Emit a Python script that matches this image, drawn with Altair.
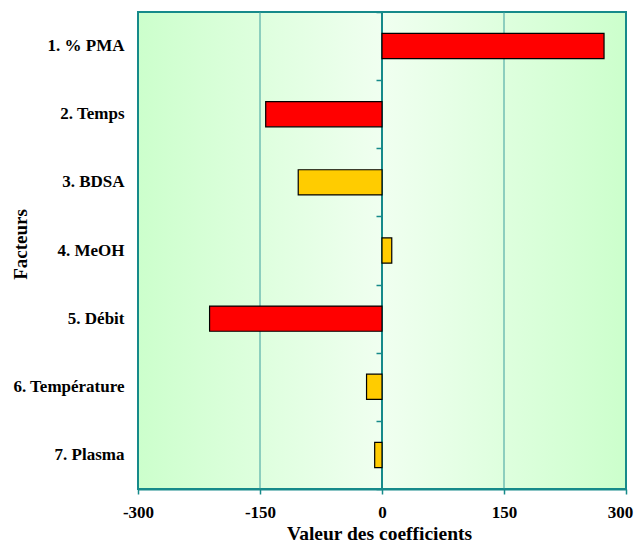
import altair as alt
import pandas as pd

factors = ["1. % PMA", "2. Temps", "3. BDSA", "4. MeOH", "5. Débit", "6. Température", "7. Plasma"]
coefs = [273, -143, -103, 12, -212, -19, -9]
colors = ["#FF0000", "#FF0000", "#FFCC00", "#FFCC00", "#FF0000", "#FFCC00", "#FFCC00"]
x_ticks = [-300, -150, 0, 150, 300]
grid_vals = [-150, 150]

df = pd.DataFrame({"facteur": factors, "coef": coefs, "couleur": colors})
bg = pd.DataFrame({"x": [x_ticks[0]], "x2": [x_ticks[-1]]})
grid = pd.DataFrame({"g": grid_vals})
zero = pd.DataFrame({"z": [0]})

W, H = 488, 477
FONT = "Liberation Serif"
TEAL = "#168A8A"
GRIDC = "#3A9E9E"

xscale = alt.Scale(domain=[x_ticks[0], x_ticks[-1]], nice=False, zero=False)
yscale = alt.Scale(domain=factors, paddingInner=0.63, paddingOuter=0.315)
ystep = alt.Scale(domain=factors, paddingInner=0, paddingOuter=0)

xaxis = alt.Axis(
    values=x_ticks,
    title="Valeur des coefficients",
    grid=False,
    domainColor=TEAL,
    domainWidth=2,
    tickColor=TEAL,
    tickSize=5,
    tickWidth=1.5,
    labelExpr="'' + datum.value",
    labelFont=FONT,
    labelFontWeight="bold",
    labelFontSize=17,
    labelColor="black",
    labelPadding=10,
    labelFlush=False,
    labelOffset={"condition": {"test": "datum.value == 300", "value": -6}, "value": 0},
    titleFont=FONT,
    titleFontWeight="bold",
    titleFontSize=19.5,
    titleColor="black",
    titleX=241,
    titleY=50,
    titleBaseline="alphabetic",
    zindex=1,
)

background = alt.Chart(bg).mark_rect(
    color=alt.Gradient(
        gradient="linear",
        stops=[
            alt.GradientStop(color="#CCFFCC", offset=0),
            alt.GradientStop(color="#F0FFF0", offset=0.5),
            alt.GradientStop(color="#CCFFCC", offset=1),
        ],
        x1=0, x2=1, y1=0, y2=0,
    ),
    stroke=TEAL,
    strokeWidth=2,
).encode(
    x=alt.X("x:Q", scale=xscale, axis=xaxis),
    x2="x2:Q",
    y=alt.value(0),
    y2=alt.value(H),
)

gridlines = alt.Chart(grid).mark_rule(color=GRIDC, strokeWidth=1).encode(
    x=alt.X("g:Q", scale=xscale, axis=xaxis)
)

zeroline = alt.Chart(zero).mark_rule(color=TEAL, strokeWidth=2).encode(
    x=alt.X("z:Q", scale=xscale, axis=xaxis)
)

bars = alt.Chart(df).mark_bar(stroke="black", strokeWidth=1.2).encode(
    x=alt.X("coef:Q", scale=xscale, axis=xaxis),
    x2=alt.datum(0),
    y=alt.Y(
        "facteur:N",
        scale=yscale,
        sort=factors,
        axis=alt.Axis(
            orient="left",
            title="Facteurs",
            ticks=False,
            tickSize=0,
            domain=False,
            labelFont=FONT,
            labelFontWeight="bold",
            labelFontSize=17,
            labelColor="black",
            labelPadding=14,
            titleFont=FONT,
            titleFontWeight="bold",
            titleFontSize=19,
            titleColor="black",
            titleX=-118,
            titleY=232,
            titleAlign="center",
            titleBaseline="middle",
            titleAngle=-90,
        ),
    ),
    color=alt.Color("couleur:N", scale=None),
)

tickaxis = alt.Chart(df).mark_bar(opacity=0).encode(
    x=alt.X("coef:Q", scale=xscale, axis=xaxis),
    x2=alt.datum(0),
    y=alt.Y(
        "facteur:N",
        scale=ystep,
        sort=factors,
        axis=alt.Axis(
            orient="left",
            offset=-(W / 2),
            title=None,
            labels=False,
            domain=False,
            ticks=True,
            tickBand="extent",
            tickColor=TEAL,
            tickSize=6,
            tickWidth=1.5,
            zindex=1,
        ),
    ),
)

chart = (
    alt.layer(background, gridlines, zeroline, bars, tickaxis)
    .resolve_scale(y="independent")
    .resolve_axis(y="independent")
    .properties(
        width=W,
        height=H,
        autosize=alt.AutoSizeParams(type="none"),
        padding={"left": 130, "top": 4, "right": 9, "bottom": 55},
    )
    .configure_view(stroke=None)
    .configure(background="white")
)

chart.save("out.html", embed_options={"renderer": "svg", "actions": False})
